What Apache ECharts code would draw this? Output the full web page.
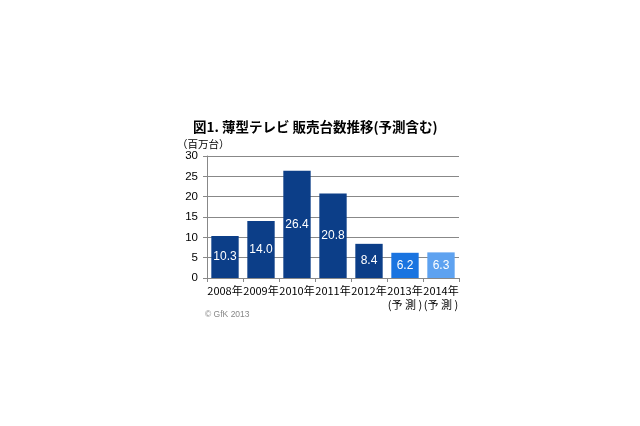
<!DOCTYPE html>
<html><head><meta charset="utf-8">
<script src="https://cdn.jsdelivr.net/npm/echarts@6/dist/echarts.min.js"></script>
<style>html,body{margin:0;padding:0;background:#fff}#c{width:640px;height:426px}</style>
</head><body><div id="c"></div>
<script>
var categories = ['2008年','2009年','2010年','2011年','2012年','2013年\n(予 測 )','2014年\n(予 測 )'];
var values = [10.3, 14.0, 26.4, 20.8, 8.4, 6.2, 6.3];
var barColors = ['#0c3e88','#0c3e88','#0c3e88','#0c3e88','#0c3e88','#1a74e0','#5ea2f0'];
var yTicks = [0,5,10,15,20,25,30];

var chart = echarts.init(document.getElementById('c'));
var font = '"Noto Sans CJK JP", "Liberation Sans", sans-serif';
chart.setOption({
  animation:false,
  title:[
    {text:'図1. 薄型テレビ 販売台数推移(予測含む)', left:188, top:115,
     textStyle:{fontSize:13.5, fontWeight:'bold', color:'#000', fontFamily:font}},
    {text:'（百万台）', left:172, top:134, textStyle:{fontSize:10.5, fontWeight:'normal', color:'#000', fontFamily:font}},
    {text:'© GfK 2013', left:200, top:305, textStyle:{fontSize:8.5, fontWeight:'normal', color:'#888', fontFamily:'"Liberation Sans", sans-serif'}}
  ],
  grid:{left:207, top:156, width:252, height:122},
  xAxis:{type:'category', data:categories,
    axisLine:{lineStyle:{color:'#888'}},
    axisTick:{show:true, length:4, lineStyle:{color:'#888'}},
    axisLabel:{color:'#000', fontSize:11, fontFamily:font, interval:0, margin:6, lineHeight:14}},
  yAxis:{type:'value', min:0, max:30, interval:5,
    axisLine:{show:true, lineStyle:{color:'#888'}},
    axisTick:{show:true, length:4, lineStyle:{color:'#888'}},
    splitLine:{lineStyle:{color:'#888'}},
    axisLabel:{color:'#000', fontSize:11.5, fontFamily:'"Liberation Sans", sans-serif', margin:9,
      formatter:function(v){return yTicks.indexOf(v)>=0?String(v):'';}}},
  series:[{type:'bar', barCategoryGap:'24%',
    data:values.map(function(v,i){return {value:v, itemStyle:{color:barColors[i]}};}),
    label:{show:true, position:'inside', color:'#fff', fontSize:12, fontFamily:'"Liberation Sans", sans-serif',
      formatter:function(p){return p.value.toFixed(1);}}}]
});
</script></body></html>
